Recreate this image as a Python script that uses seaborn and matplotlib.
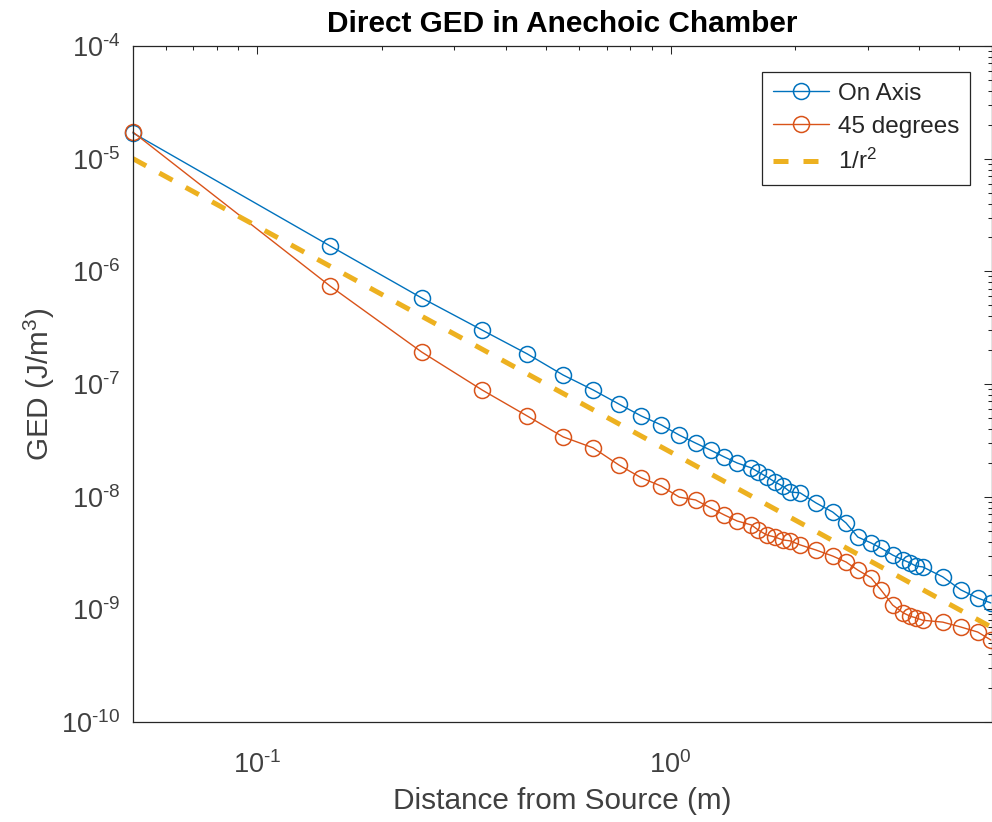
import matplotlib
matplotlib.use("Agg")
import matplotlib.pyplot as plt
import seaborn as sns
import numpy as np
import pandas as pd
from matplotlib.ticker import LogLocator, NullFormatter, FuncFormatter, FixedLocator

# ---------------- data ----------------
distance = [0.05, 0.15, 0.25, 0.35, 0.45, 0.55, 0.65, 0.75, 0.85, 0.95,
            1.05, 1.15, 1.25, 1.35, 1.45, 1.57, 1.63, 1.71, 1.79, 1.87,
            1.95, 2.06, 2.25, 2.47, 2.66, 2.84, 3.06, 3.23, 3.45, 3.66,
            3.80, 3.93, 4.08, 4.56, 5.04, 5.54, 5.96]

on_axis = [1.69e-5, 1.68e-6, 5.8e-7, 3.01e-7, 1.85e-7, 1.20e-7, 8.85e-8, 6.64e-8, 5.2e-8, 4.33e-8,
           3.52e-8, 2.99e-8, 2.59e-8, 2.25e-8, 1.99e-8, 1.80e-8, 1.66e-8, 1.50e-8, 1.35e-8, 1.24e-8,
           1.10e-8, 1.08e-8, 8.8e-9, 7.3e-9, 5.84e-9, 4.38e-9, 3.88e-9, 3.50e-9, 3.03e-9, 2.74e-9,
           2.58e-9, 2.42e-9, 2.38e-9, 1.94e-9, 1.49e-9, 1.26e-9, 1.14e-9]

deg45 = [1.72e-5, 7.4e-7, 1.92e-7, 8.85e-8, 5.2e-8, 3.39e-8, 2.71e-8, 1.91e-8, 1.47e-8, 1.24e-8,
         9.9e-9, 9.35e-9, 7.94e-9, 6.88e-9, 6.08e-9, 5.61e-9, 5.06e-9, 4.57e-9, 4.38e-9, 4.13e-9,
         4.05e-9, 3.73e-9, 3.36e-9, 2.97e-9, 2.63e-9, 2.23e-9, 1.90e-9, 1.49e-9, 1.09e-9, 9.3e-10,
         8.7e-10, 8.4e-10, 8.0e-10, 7.7e-10, 6.97e-10, 6.29e-10, 5.35e-10]

ref_distance = [0.05, 6.0]
ref_ged = [1.0e-5, 6.9e-10]

x_major_ticks = [0.1, 1.0]
y_major_ticks = [1e-10, 1e-9, 1e-8, 1e-7, 1e-6, 1e-5, 1e-4]

series_labels = ["On Axis", "45 degrees", "1/r$^2$"]
title_text = "Direct GED in Anechoic Chamber"
xlabel_text = "Distance from Source (m)"
ylabel_text = "GED (J/m$^3$)"

# ---------------- style ----------------
sns.set_style("white")
plt.rcParams["font.family"] = ["Liberation Sans", "DejaVu Sans"]
plt.rcParams["mathtext.fontset"] = "custom"
plt.rcParams["mathtext.rm"] = "Liberation Sans"
plt.rcParams["mathtext.it"] = "Liberation Sans:italic"
plt.rcParams["mathtext.bf"] = "Liberation Sans:bold"
plt.rcParams["axes.unicode_minus"] = False

TXT = "#262626"
C_BLUE = "#0072BD"
C_ORANGE = "#D95319"
C_YELLOW = "#EDB120"

fig = plt.figure(figsize=(9.92, 8.22), dpi=100)
ax = fig.add_axes([133 / 992, 100 / 822, (992 - 133) / 992, 676 / 822])
ax.set_xscale("log")
ax.set_yscale("log")

df_on = pd.DataFrame({"distance": distance, "ged": on_axis})
df_45 = pd.DataFrame({"distance": distance, "ged": deg45})
df_ref = pd.DataFrame({"distance": ref_distance, "ged": ref_ged})

common = dict(marker="o", markersize=11.5, markerfacecolor="none",
              markeredgewidth=1.1, linewidth=1.0, clip_on=False, sort=False,
              estimator=None)
sns.lineplot(data=df_on, x="distance", y="ged", ax=ax, color=C_BLUE,
             markeredgecolor=C_BLUE, label=series_labels[0], **common)
sns.lineplot(data=df_45, x="distance", y="ged", ax=ax, color=C_ORANGE,
             markeredgecolor=C_ORANGE, label=series_labels[1], **common)
sns.lineplot(data=df_ref, x="distance", y="ged", ax=ax, color=C_YELLOW,
             linewidth=3.6, dashes=False, label=series_labels[2], sort=False,
             estimator=None)
ref_line = ax.get_lines()[-1]
ref_line.set_linestyle((0, (3.0, 3.0)))
ref_line.set_dash_capstyle("butt")

ax.set_xlim(0.05, 6.0)
ax.set_ylim(1e-10, 1e-4)


def pow10_label(v, pos):
    k = int(round(np.log10(v)))
    if k < 0:
        return "$10^{\\text{-}%d}$" % (-k)
    return "$10^{%d}$" % k


ax.xaxis.set_major_locator(FixedLocator(x_major_ticks))
ax.xaxis.set_minor_locator(LogLocator(base=10, subs=np.arange(2, 10), numticks=20))
ax.xaxis.set_major_formatter(FuncFormatter(pow10_label))
ax.xaxis.set_minor_formatter(NullFormatter())
ax.yaxis.set_major_locator(FixedLocator(y_major_ticks))
ax.yaxis.set_minor_locator(LogLocator(base=10, subs=np.arange(2, 10), numticks=20))
ax.yaxis.set_major_formatter(FuncFormatter(pow10_label))
ax.yaxis.set_minor_formatter(NullFormatter())

ax.tick_params(which="both", direction="in", top=True, right=True,
               color=TXT, labelcolor="#404040", width=0.75)
ax.tick_params(which="major", length=6, labelsize=19.5)
ax.tick_params(which="minor", length=3)
ax.tick_params(axis="x", which="major", pad=21)
ax.tick_params(axis="y", which="major", pad=9)

for s in ax.spines.values():
    s.set_visible(True)
    s.set_color(TXT)
    s.set_linewidth(0.9)

ax.set_title(title_text, fontsize=21.4, fontweight="bold", color="black", pad=10)
ax.set_xlabel(xlabel_text, fontsize=21.4, color="#404040", labelpad=6)
ax.set_ylabel(ylabel_text, fontsize=21.4, color="#404040", labelpad=3)
ax.grid(False)

leg = ax.legend(loc="upper right", bbox_to_anchor=(0.9744, 0.9615),
                borderaxespad=0, fontsize=17.5, frameon=True, fancybox=False,
                framealpha=1, edgecolor=TXT, handlelength=2.3,
                handletextpad=0.35, labelspacing=0.45, borderpad=0.45,
                numpoints=1)
leg.get_frame().set_linewidth(0.9)
for t in leg.get_texts():
    t.set_color("#262626")

fig.savefig("out.png", dpi=100)
